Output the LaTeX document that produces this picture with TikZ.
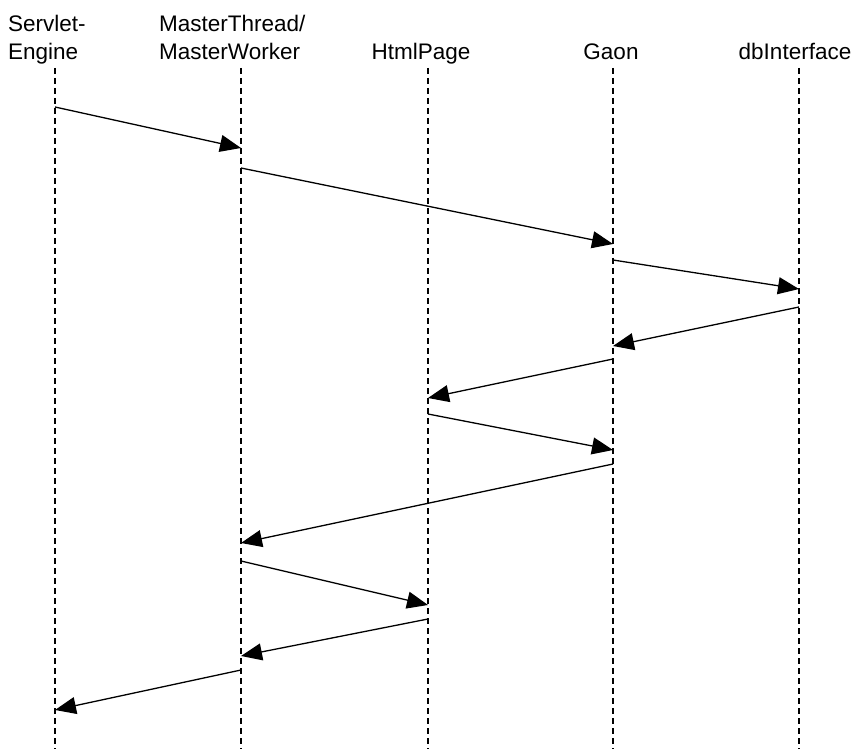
\documentclass[tikz,border=0pt]{standalone}
\usepackage{fontspec}
\setmainfont{Liberation Sans}
\usetikzlibrary{arrows.meta}
\begin{document}
\begin{tikzpicture}[x=1pt,y=-1pt,
  lifeline/.style={draw=black, line width=1.2pt, dash pattern=on 6pt off 4pt},
  msg/.style={draw=black, line width=1.3pt, -{Triangle[length=21pt,width=17pt]}},
  head/.style={font=\fontsize{22.5}{28}\selectfont, inner sep=0pt, align=left}]
\useasboundingbox[fill=white] (0,0) rectangle (863,749);

% object headers
\node[head, anchor=base west] (servlet) at (8,60) {Servlet-\\Engine};
\node[head, anchor=base west] (master) at (159,60) {MasterThread/\\MasterWorker};
\node[head, anchor=base] (html) at (421,60) {HtmlPage};
\node[head, anchor=base] (gaon) at (611,60) {Gaon};
\node[head, anchor=base] (db) at (795,60) {dbInterface};

% lifelines
\foreach \n/\x in {s/55, m/241, h/428, g/613, d/799} {
  \coordinate (\n top) at (\x,68);
  \coordinate (\n bot) at (\x,749);
  \draw[lifeline] (\n top) -- (\n bot);
}

% message end points
\coordinate (a1) at (55,107);  \coordinate (b1) at (241,148);
\coordinate (a2) at (241,168); \coordinate (b2) at (613,244);
\coordinate (a3) at (613,260); \coordinate (b3) at (799,289);
\coordinate (a4) at (799,307); \coordinate (b4) at (613,346);
\coordinate (a5) at (613,359); \coordinate (b5) at (428,398);
\coordinate (a6) at (428,414); \coordinate (b6) at (613,450);
\coordinate (a7) at (613,464); \coordinate (b7) at (241,543);
\coordinate (a8) at (241,561); \coordinate (b8) at (428,605);
\coordinate (a9) at (428,619); \coordinate (b9) at (241,656);
\coordinate (a10) at (241,670); \coordinate (b10) at (55,710);

% messages
\foreach \i in {1,...,10} {
  \draw[msg] (a\i) -- (b\i);
}
\end{tikzpicture}
\end{document}
